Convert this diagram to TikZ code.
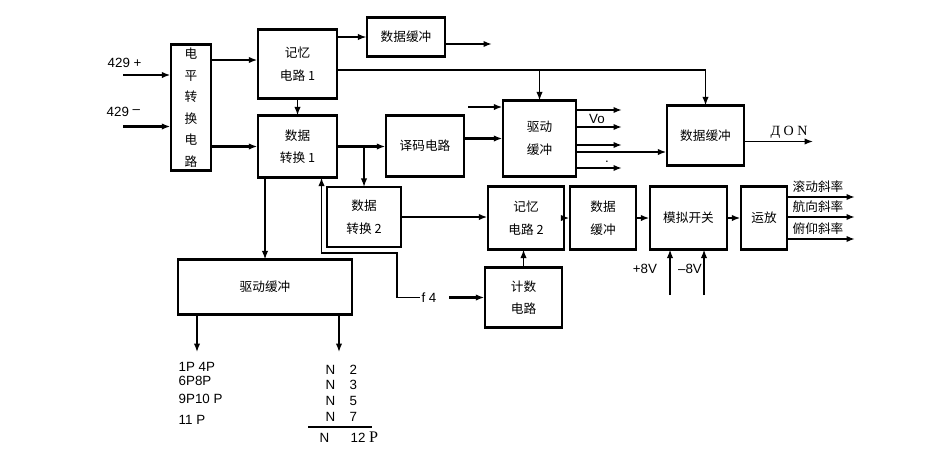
\documentclass[tikz,border=0pt]{standalone}
\usepackage{fontspec}
\setmainfont{Liberation Sans}
\newfontfamily\cjk{Noto Sans CJK SC}
\newfontfamily\rmlat{Liberation Serif}
\usetikzlibrary{arrows.meta, calc}

\begin{document}
\begin{tikzpicture}[
  x=0.025cm, y=-0.025cm,
  box/.style={draw, line width=0.9pt, inner sep=0pt, align=center, font=\cjk\fontsize{9}{16}\selectfont},
  lbl/.style={font=\fontsize{9.5}{10}\selectfont, inner sep=1pt},
  cjklbl/.style={font=\cjk\fontsize{9}{10}\selectfont, inner sep=1pt},
  arr/.style={-{Latex[length=6pt,width=4.5pt]}, line width=0.9pt},
  fatarr/.style={arr, line width=2pt},
]
  \useasboundingbox (0,0) rectangle (934,454);

  % boxes
  \node[box, minimum width=1.0cm, minimum height=3.125cm, font=\cjk\fontsize{9}{15.3}\selectfont] (lvl) at (191,107.5) {电\\平\\转\\换\\电\\路};
  \node[box, minimum width=1.975cm, minimum height=1.7cm]   (mem1)  at (297.5,64)   {记忆\\电路 1};
  \node[box, minimum width=1.95cm,  minimum height=0.95cm]  (buf1)  at (406,37)     {数据缓冲};
  \node[box, minimum width=1.975cm, minimum height=1.525cm] (conv1) at (297.5,146.5) {数据\\转换 1};
  \node[box, minimum width=1.95cm,  minimum height=1.5cm]   (dec)   at (425,146)    {译码电路};
  \node[box, minimum width=1.825cm, minimum height=1.875cm] (drv1)  at (539.5,138.5) {驱动\\缓冲};
  \node[box, minimum width=1.925cm, minimum height=1.475cm] (buf2)  at (705.5,135.5) {数据缓冲};
  \node[box, minimum width=1.85cm,  minimum height=1.475cm] (conv2) at (364,217)    {数据\\转换 2};
  \node[box, minimum width=1.9cm,   minimum height=1.55cm]  (mem2)  at (526,218)    {记忆\\电路 2};
  \node[box, minimum width=1.65cm,  minimum height=1.55cm]  (buf3)  at (603,218)    {数据\\缓冲};
  \node[box, minimum width=1.925cm, minimum height=1.55cm]  (sw)    at (688.5,218)  {模拟开关};
  \node[box, minimum width=1.15cm,  minimum height=1.55cm]  (amp)   at (764,218)    {运放};
  \node[box, minimum width=1.925cm, minimum height=1.475cm] (cnt)   at (523.5,297.5) {计数\\电路};
  \node[box, minimum width=4.35cm,  minimum height=1.35cm]  (drv2)  at (265,287)    {驱动缓冲};

  \foreach \n in {lvl,mem1,buf1,conv1,dec,drv1,buf2,conv2,mem2,buf3,sw,amp,cnt,drv2} {
    \draw[line width=1.9pt] (\n.north west) -- (\n.north east);
    \draw[line width=1.7pt] (\n.south west) -- (\n.south east);
  }

  % inputs
  \node[lbl, anchor=west] (inp) at (106,63)  {429 +};
  \node[lbl, anchor=west] (inm) at (105,112) {429 \raisebox{2pt}{--}};
  \coordinate (inpS) at (123,75);
  \coordinate (inmS) at (123,126.5);
  \draw[arr, line width=1.5pt] (inpS) -- (inpS -| lvl.west);
  \draw[arr, line width=1.5pt] (inmS) -- (inmS -| lvl.west);

  \coordinate (l2m) at (0,60);
  \draw[arr, line width=1.5pt] (lvl.east |- l2m) -- (l2m -| mem1.west);
  \draw[fatarr] (lvl.east |- conv1.west) -- (conv1.west);

  % memory 1
  \draw[arr] (mem1.east |- buf1.west) -- (buf1.west);
  \coordinate (buf1out) at (492,44);
  \draw[fatarr] (buf1.east |- buf1out) -- (buf1out);
  \coordinate (bus) at (705.5,70);
  \draw[arr] (mem1.east |- bus) -- (bus) -- (buf2.north);
  \draw[arr] (drv1.north |- bus) -- (drv1.north);
  \draw[arr] (mem1.south) -- (conv1.north);

  % conversion 1
  \draw[fatarr] (conv1.east) -- (conv1.east -| dec.west);
  \draw[arr] (conv2.north |- conv1.east) -- (conv2.north);
  \draw[fatarr] (dec.east |- drv1.west) -- (drv1.west);
  \coordinate (drvin) at (468,107);
  \draw[fatarr] (drvin) -- (drvin -| drv1.west);

  % driver outputs
  \foreach \i/\y in {1/110,2/127,3/145,4/168} {
    \coordinate (vo\i) at (622,\y);
    \draw[fatarr] (drv1.east |- vo\i) -- (vo\i);
  }
  \node[lbl] (vo) at (597,119) {Vo};
  \node[lbl] (dot) at (607,162) {.};
  \coordinate (d2b) at (0,152);
  \draw[fatarr] (drv1.east |- d2b) -- (d2b -| buf2.west);

  \coordinate (don) at (813,141.5);
  \draw[arr] (buf2.east |- don) -- (don);
  \node[lbl, font=\rmlat\fontsize{10}{10}\selectfont] (donl) at (789,132) {Д O N};

  % lower branch
  \draw[arr] (conv1.south -| drv2.north) -- (drv2.north);
  \node[lbl] (f4) at (429,297.5) {f 4};
  \coordinate (fk) at (397,253);
  \coordinate (fup) at (321.5,253);
  \draw[arr] (f4.west) -| (fk) -- (fup) -- (fup |- conv1.south);
  \draw[fatarr, shorten <=8pt] (f4.east) -- (f4.east -| cnt.west);
  \draw[arr] (cnt.north) -- (cnt.north |- mem2.south);

  \draw[fatarr] (conv2.east) -- (conv2.east -| mem2.west);
  \draw[fatarr] (mem2.east) -- (buf3.west);
  \draw[fatarr] (buf3.east) -- (sw.west);
  \draw[fatarr] (sw.east) -- (amp.west);

  % slopes
  \foreach \i/\y/\t in {1/197/滚动斜率,2/217/航向斜率,3/239/俯仰斜率} {
    \coordinate (sl\i) at (855,\y);
    \draw[fatarr] (amp.east |- sl\i) -- (sl\i);
    \node[cjklbl] (slt\i) at (818,\y-10) {\t};
  }

  % supplies
  \coordinate (p8) at (670,295);
  \coordinate (m8) at (704,295);
  \draw[arr] (p8) -- (p8 |- sw.south);
  \draw[arr] (m8) -- (m8 |- sw.south);
  \node[lbl] (p8l) at (645,269) {+8V};
  \node[lbl] (m8l) at (690,269) {--8V};

  % driver 2 outputs
  \coordinate (pl) at (197,352);
  \coordinate (nl) at (339,352);
  \draw[arr] (drv2.south -| pl) -- (pl);
  \draw[arr] (drv2.south -| nl) -- (nl);

  \node[lbl, anchor=west] (p1) at (177,367) {1P 4P};
  \node[lbl, anchor=west] (p2) at (177,381) {6P8P};
  \node[lbl, anchor=west] (p3) at (177,399) {9P10 P};
  \node[lbl, anchor=west] (p4) at (177,420) {11 P};

  \node[lbl, anchor=west] (n1) at (324,370) {\makebox[17pt][l]{N}2};
  \node[lbl, anchor=west] (n2) at (324,385) {\makebox[17pt][l]{N}3};
  \node[lbl, anchor=west] (n3) at (324,401) {\makebox[17pt][l]{N}5};
  \node[lbl, anchor=west] (n4) at (324,417) {\makebox[17pt][l]{N}7};
  \coordinate (barl) at (308,427);
  \coordinate (barr) at (372,427);
  \draw[line width=2pt] (barl) -- (barr);
  \node[lbl, anchor=west] (n5) at (318,437) {\makebox[22pt][l]{N}12 {\rmlat\fontsize{11.5}{11}\selectfont P}};
\end{tikzpicture}
\end{document}
